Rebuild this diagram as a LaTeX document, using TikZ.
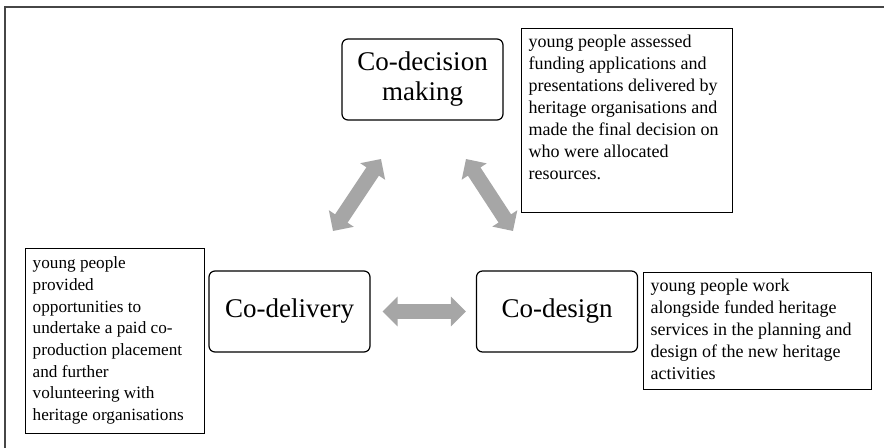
\documentclass[tikz,border=0pt]{standalone}
\usepackage{fontspec}
\setmainfont{Liberation Serif}
\usetikzlibrary{arrows.meta}
\definecolor{arrowgray}{RGB}{166,166,166}
\definecolor{framegray}{RGB}{70,70,70}
\tikzset{
	stage/.style={draw, rounded corners=3pt, line width=0.6pt, minimum width=80.5pt, minimum height=40.5pt, align=center, font=\fontsize{13.5}{15}\selectfont},
	note/.style={draw, line width=0.7pt, anchor=north west, inner xsep=3.5pt, inner ysep=3pt, font=\fontsize{9}{11}\selectfont},
	cyclearrow/.style={line width=7.5pt, arrowgray, {Triangle[length=7.5pt,width=14.5pt]}-{Triangle[length=7.5pt,width=14.5pt]}}
}
\newcommand{\notetext}[3]{\parbox[t][#2][t]{#1}{\raggedright #3}}
\begin{document}
\begin{tikzpicture}[x=0.5pt,y=-0.5pt]
\useasboundingbox (0,0) rectangle (884,448);
	\draw[line width=1pt, framegray] (5,470) -- (5,7) -- (900,7);
	% stages
	\node[stage] (decision) at (422.5,79.5) {Co-decision\\making};
	\node[stage] (delivery) at (289.5,311.5) {Co-delivery};
	\node[stage] (design) at (557,311.5) {Co-design};
	% notes
	\node[note] (decisionnote) at (521,28) {\notetext{98.5pt}{86pt}{young people assessed\\funding applications and\\presentations delivered by\\heritage organisations and\\made the final decision on\\who were allocated\\resources.}};
	\node[note, inner ysep=4pt, font=\fontsize{8.6}{10.85}\selectfont] (deliverynote) at (25,248) {\notetext{82.5pt}{84.5pt}{young people\\provided\\opportunities to\\undertake a paid co-\\production placement\\and further\\volunteering with\\heritage organisations}};
	\node[note] (designnote) at (643,272) {\notetext{107pt}{52.5pt}{young people work\\alongside funded heritage\\services in the planning and\\design of the new heritage\\activities}};
	% arrows
	\coordinate (leftlow) at (333,231);
	\coordinate (lefthigh) at (381,159);
	\coordinate (righthigh) at (466,159);
	\coordinate (rightlow) at (513,231);
	\draw[cyclearrow] (leftlow) -- (lefthigh);
	\draw[cyclearrow] (righthigh) -- (rightlow);
	\draw[cyclearrow, shorten <=6pt, shorten >=5pt] (delivery) -- (design);
\end{tikzpicture}
\end{document}
